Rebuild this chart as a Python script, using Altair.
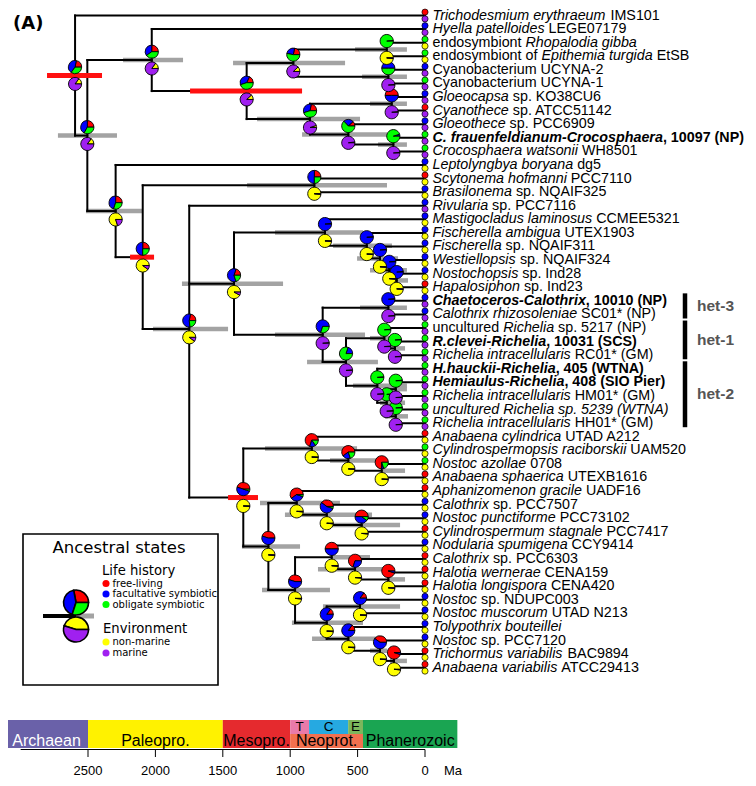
import math
import altair as alt
import pandas as pd

# ---------------------------------------------------------------- data
TIP_LABELS = [
    [("Trichodesmium erythraeum", "i"), (" IMS101", "r")],
    [("Hyella patelloides", "i"), (" LEGE07179", "r")],
    [("endosymbiont ", "r"), ("Rhopalodia gibba", "i")],
    [("endosymbiont of ", "r"), ("Epithemia turgida", "i"), (" EtSB", "r")],
    [("Cyanobacterium UCYNA-2", "r")],
    [("Cyanobacterium UCYNA-1", "r")],
    [("Gloeocapsa", "i"), (" sp. KO38CU6", "r")],
    [("Cyanothece", "i"), (" sp. ATCC51142", "r")],
    [("Gloeothece", "i"), (" sp. PCC6909", "r")],
    [("C. frauenfeldianum-Crocosphaera", "bi"), (", 10097 (NP)", "b")],
    [("Crocosphaera watsonii", "i"), (" WH8501", "r")],
    [("Leptolyngbya boryana", "i"), (" dg5", "r")],
    [("Scytonema hofmanni", "i"), (" PCC7110", "r")],
    [("Brasilonema", "i"), (" sp. NQAIF325", "r")],
    [("Rivularia", "i"), (" sp. PCC7116", "r")],
    [("Mastigocladus laminosus", "i"), (" CCMEE5321", "r")],
    [("Fischerella ambigua", "i"), (" UTEX1903", "r")],
    [("Fischerella", "i"), (" sp. NQAIF311", "r")],
    [("Westiellopsis", "i"), (" sp. NQAIF324", "r")],
    [("Nostochopsis", "i"), (" sp. Ind28", "r")],
    [("Hapalosiphon", "i"), (" sp. Ind23", "r")],
    [("Chaetoceros-Calothrix", "bi"), (", 10010 (NP)", "b")],
    [("Calothrix rhizosoleniae", "i"), (" SC01* (NP)", "r")],
    [("uncultured ", "r"), ("Richelia", "i"), (" sp. 5217 (NP)", "r")],
    [("R.clevei-Richelia", "bi"), (", 10031 (SCS)", "b")],
    [("Richelia intracellularis", "i"), (" RC01* (GM)", "r")],
    [("H.hauckii-Richelia", "bi"), (", 405 (WTNA)", "b")],
    [("Hemiaulus-Richelia", "bi"), (", 408 (SIO Pier)", "b")],
    [("Richelia intracellularis", "i"), (" HM01* (GM)", "r")],
    [("uncultured Richelia sp. 5239 (WTNA)", "i")],
    [("Richelia intracellularis", "i"), (" HH01* (GM)", "r")],
    [("Anabaena cylindrica", "i"), (" UTAD A212", "r")],
    [("Cylindrospermopsis raciborskii", "i"), (" UAM520", "r")],
    [("Nostoc azollae", "i"), (" 0708", "r")],
    [("Anabaena sphaerica", "i"), (" UTEXB1616", "r")],
    [("Aphanizomenon gracile", "i"), (" UADF16", "r")],
    [("Calothrix", "i"), (" sp. PCC7507", "r")],
    [("Nostoc punctiforme", "i"), (" PCC73102", "r")],
    [("Cylindrospermum stagnale", "i"), (" PCC7417", "r")],
    [("Nodularia spumigena", "i"), (" CCY9414", "r")],
    [("Calothrix", "i"), (" sp. PCC6303", "r")],
    [("Halotia wernerae", "i"), (" CENA159", "r")],
    [("Halotia longispora", "i"), (" CENA420", "r")],
    [("Nostoc", "i"), (" sp. NDUPC003", "r")],
    [("Nostoc muscorum", "i"), (" UTAD N213", "r")],
    [("Tolypothrix bouteillei", "i")],
    [("Nostoc", "i"), (" sp. PCC7120", "r")],
    [("Trichormus variabilis", "i"), (" BAC9894", "r")],
    [("Anabaena variabilis", "i"), (" ATCC29413", "r")],
]

TIP_LIFE = ["free", "fac", "obl", "obl", "fac", "obl", "fac", "free", "fac", "obl",
            "obl", "fac", "free", "fac", "fac", "fac", "fac", "fac", "fac", "fac",
            "free", "fac", "fac", "obl", "obl", "obl", "obl", "obl", "obl", "obl",
            "obl", "free", "obl", "obl", "free", "free", "fac", "fac", "free", "fac",
            "free", "free", "free", "fac", "fac", "fac", "fac", "free", "free"]
TIP_ENV = ["M", "M", "N", "N", "M", "M", "M", "M", "M", "M",
           "M", "N", "N", "N", "M", "N", "N", "N", "N", "N",
           "N", "M", "M", "M", "M", "M", "M", "M", "M", "M",
           "M", "N", "N", "N", "N", "N", "N", "N", "N", "N",
           "N", "N", "N", "N", "N", "N", "N", "N", "N"]

NODE_NAMES = ["A", "B", "C", "D", "E", "G", "H", "F", "I", "J", "K", "M", "N", "O", "P",
              "R", "R1", "R1b", "R1c", "R1d", "R1e", "R2", "R2a", "R2b", "R2c", "R2e",
              "R2d", "R2f", "R2g", "R2h",
              "S", "S1", "S2", "S3", "S5", "S6", "S8", "S9", "S7", "S10", "S12", "S13",
              "S11", "S14", "S15", "S16", "S17"]
NODE_CHILDREN = [[1, "B"], ["C", "M"], [2, "D"], ["E", "F"], ["G", "H"], [3, 4], [5, 6],
                 ["I", "J"], [7, 8], [9, "K"], [10, 11], [12, "N"], ["O", "P"], [13, 14],
                 [15, "R", "S"],
                 ["R1", "R2"], [16, "R1b"], [17, "R1c"], [18, "R1d"], [19, "R1e"], [20, 21],
                 ["R2a", "R2b"], [22, 23], ["R2c", "R2d"], [24, "R2e"], [25, 26],
                 [27, "R2f"], ["R2g", "R2h"], [28, 29], [30, 31],
                 ["S1", "S5"], [32, "S2"], [33, "S3"], [34, 35], ["S6", "S7"], [36, "S8"],
                 [37, "S9"], [38, 39], ["S10", "S11"], [40, "S12"], [41, "S13"], [42, 43],
                 ["S14", "S15"], [44, 45], [46, "S16"], [47, "S17"], [48, 49]]
NODE_AGE = [2596, 2505, 2027, 1323, 977, 284, 272, 853, 247, 569, 235, 2295, 2094, 821, 1749,
            1417, 742, 432, 334, 265, 210, 759, 272, 586, 302, 223, 354, 284, 217, 217,
            1348, 840, 569, 321, 1162, 952, 729, 470, 964, 692, 519, 272, 729, 482, 569, 334, 230]
NODE_HPD_OLD = [2804, 2723, 2240, 1743, 1424, 519, 467, 1246, 408, 912, 349, 2515, 2188, 1320, 2018,
                1803, 1113, 682, 504, 408, 260, 1113, 482, 875, 408, 297, 534, 334, 260, 297,
                1461, 1187, 705, 312, 1358, 1224, 1039, 779, 1209, 682, 794, 282, 987, 757, 838, 408, 260]
NODE_HPD_YOUNG = [2396, 2285, 1795, 912, 593, 134, 134, 482, 134, 282, 134, 2099, 2010, 282, 1461,
                  1053, 460, 245, 200, 134, 126, 445, 134, 349, 185, 148, 134, 148, 134, 126,
                  1239, 504, 356, 148, 927, 631, 393, 185, 705, 408, 312, 148, 460, 185, 356, 282, 134]
NODE_CALIBRATED = ["A", "D", "N", "S"]
# life history fractions: free-living, facultative, obligate
NODE_LIFE = [(.22, .43, .35), (.25, .42, .33), (.25, .35, .40), (.18, .37, .45), (.22, .25, .53),
             (0, .015, .985), (0, .5, .5), (.22, .33, .45), (.5, .5, 0), (.12, .25, .63),
             (0, .05, .95), (.25, .45, .30), (.25, .5, .25), (.25, .5, .25), (.22, .55, .23),
             (.2, .6, .2), (.015, .985, 0), (.015, .985, 0), (.015, .985, 0), (.015, .985, 0),
             (.015, .985, 0), (0, .7, .3), (.015, .985, 0), (0, .2, .8), (0, .015, .985),
             (0, .015, .985), (0, .015, .985), (0, .015, .985), (0, .015, .985), (0, .015, .985),
             (.45, .5, .05), (.7, .15, .15), (.6, .2, .2), (.75, .05, .2), (.45, .55, 0),
             (.6, .35, .05), (.4, .55, .05), (.5, .4, .1), (.45, .55, 0), (.5, .5, 0),
             (.7, .3, 0), (.95, .05, 0), (.15, .85, 0), (.15, .85, 0), (.15, .85, 0),
             (.4, .6, 0), (.95, .05, 0)]
# environment fractions: non-marine, marine
NODE_ENV = [(.15, .85), (.15, .85), (.15, .85), (.12, .88), (.12, .88), (.985, .015), (.015, .985),
            (.05, .95), (.015, .985), (.02, .98), (.015, .985), (.8, .2), (.9, .1), (.985, .015),
            (.9, .1),
            (.92, .08), (.985, .015), (.985, .015), (.985, .015), (.985, .015), (.985, .015),
            (.015, .985), (.015, .985), (.015, .985), (.015, .985), (.015, .985), (.015, .985),
            (.015, .985), (.015, .985), (.015, .985)] + [(.985, .015)] * 17

HET_NAMES = ["het-3", "het-1", "het-2"]
HET_FIRST = [22, 24, 27]
HET_LAST = [23, 26, 31]

ERA_NAMES = ["Archaean", "Paleopro.", "Mesopro.", "Neoprot.", "T", "C", "E", "Phanerozoic"]
ERA_START = [3115, 2500, 1500, 1000, 1000, 860, 570, 460]
ERA_END = [2500, 1500, 1000, 460, 860, 570, 460, -240]
ERA_BAND = ["full", "full", "full", "bottom", "top", "top", "top", "full"]
ERA_COLOR = ["#6a61a9", "#fff200", "#e52a2e", "#f2704f", "#e97aa9", "#26a9e1", "#7cb65c", "#1aa552"]
ERA_TEXT = ["white", "black", "black", "black", "black", "black", "black", "black"]
AXIS_TICKS = [2500, 2000, 1500, 1000, 500, 0]

LEGEND_LIFE = ["free-living", "facultative symbiotic", "obligate symbiotic"]
LEGEND_ENV = ["non-marine", "marine"]
LEGEND_PIE_LIFE = (.28, .42, .30)
LEGEND_PIE_ENV = (.45, .55)

# ---------------------------------------------------------------- styling / layout
W, H = 740, 770
PX_PER_MA = 67.4 / 500.0
ORIGIN = 417.0            # chart x of 0 Ma
ROW_PX = 13.5875          # pixel distance between tips
ROW0 = 1 - 7.5 / ROW_PX   # row value at the top edge
FONT = 14.3
LIFE_COL = {"free": "#ff0000", "fac": "#0000ff", "obl": "#00ff00"}
ENV_COL = {"N": "#ffff00", "M": "#a020f0"}
LIFE_ORDER = ["free", "fac", "obl"]
ENV_ORDER = ["N", "M"]


def pma(px):
    return (ORIGIN - px) / PX_PER_MA


def prow(py):
    return ROW0 + py / ROW_PX


XS = alt.Scale(domain=[pma(0), pma(W)], nice=False, zero=False)
YS = alt.Scale(domain=[prow(H), prow(0)], nice=False, zero=False)


def X(f):
    return alt.X(f, type="quantitative", scale=XS, axis=None)


def Y(f):
    return alt.Y(f, type="quantitative", scale=YS, axis=None)


# ---------------------------------------------------------------- tree layout
child_map = dict(zip(NODE_NAMES, NODE_CHILDREN))
age_map = dict(zip(NODE_NAMES, NODE_AGE))
ymap = {}


def ypos(c):
    if isinstance(c, int):
        return float(c)
    if c not in ymap:
        ys = [ypos(ch) for ch in child_map[c]]
        ymap[c] = sum(ys) / len(ys)
    return ymap[c]


def xage(c):
    return 0.0 if isinstance(c, int) else float(age_map[c])


seg = []
for n in NODE_NAMES:
    ys = [ypos(ch) for ch in child_map[n]]
    seg.append(dict(x0=xage(n), x1=xage(n), y0=min(ys), y1=max(ys)))
    for ch in child_map[n]:
        seg.append(dict(x0=xage(n), x1=xage(ch), y0=ypos(ch), y1=ypos(ch)))
seg_df = pd.DataFrame(seg)

bars = []
for i, n in enumerate(NODE_NAMES):
    bars.append(dict(x0=NODE_HPD_OLD[i], x1=NODE_HPD_YOUNG[i], y=ypos(n),
                     cal=n in NODE_CALIBRATED))
bars_df = pd.DataFrame(bars)
gray_df = bars_df[~bars_df.cal]
red_df = bars_df[bars_df.cal]


def slices(fracs, cols, x, y, key):
    out = []
    c = 0.0
    tot = sum(fracs)
    for f, col in zip(fracs, cols):
        if f <= 0:
            continue
        c0, c1 = c, c + f / tot
        c = c1
        out.append(dict(key=key, x=x, y=y, col=col,
                        a0=2.5 * math.pi - 2 * math.pi * c1,
                        a1=2.5 * math.pi - 2 * math.pi * c0))
    return out


life_rows, env_rows = [], []
for i, n in enumerate(NODE_NAMES):
    life_rows += slices(NODE_LIFE[i], [LIFE_COL[k] for k in LIFE_ORDER], xage(n), ypos(n), n)
    env_rows += slices(NODE_ENV[i], [ENV_COL[k] for k in ENV_ORDER], xage(n), ypos(n), n)
life_df = pd.DataFrame(life_rows)
env_df = pd.DataFrame(env_rows)

tips_df = pd.DataFrame(dict(x=[0.0] * len(TIP_LIFE), y=[float(k) for k in range(1, len(TIP_LIFE) + 1)],
                            life=[LIFE_COL[v] for v in TIP_LIFE], env=[ENV_COL[v] for v in TIP_ENV]))

# ---------------------------------------------------------------- label segments
REG = {" ": 278, ".": 278, ",": 278, "-": 333, "(": 333, ")": 333, "*": 389}
for ch, w in zip("ABCDEFGHIJKLMNOPQRSTUVWXYZ",
                 [667, 667, 722, 722, 667, 611, 778, 722, 278, 500, 667, 556, 833, 722, 778, 667,
                  778, 722, 667, 611, 722, 667, 944, 667, 667, 611]):
    REG[ch] = w
for ch, w in zip("abcdefghijklmnopqrstuvwxyz",
                 [556, 556, 500, 556, 556, 278, 556, 556, 222, 222, 500, 222, 833, 556, 556, 556,
                  556, 333, 500, 278, 556, 500, 722, 500, 500, 500]):
    REG[ch] = w
BOLD = {" ": 278, ".": 278, ",": 278, "-": 333, "(": 333, ")": 333, "*": 389}
for ch, w in zip("ABCDEFGHIJKLMNOPQRSTUVWXYZ",
                 [722, 722, 722, 722, 667, 611, 778, 722, 278, 556, 722, 611, 833, 722, 778, 667,
                  778, 722, 667, 611, 722, 667, 944, 667, 667, 611]):
    BOLD[ch] = w
for ch, w in zip("abcdefghijklmnopqrstuvwxyz",
                 [556, 611, 556, 611, 556, 333, 611, 611, 278, 278, 556, 278, 889, 611, 611, 611,
                  611, 389, 556, 333, 611, 556, 778, 556, 556, 500]):
    BOLD[ch] = w


def tw(s, bold):
    t = BOLD if bold else REG
    return sum(t.get(c, 556) for c in s) / 1000.0 * FONT


LABEL_GAP = 7.5
lab = []
for k, parts in enumerate(TIP_LABELS, start=1):
    off = 0.0
    for text, style in parts:
        bold = style.startswith("b")
        lead = len(text) - len(text.lstrip(" "))
        start = off + tw(" " * lead, bold)
        lab.append(dict(x=-(LABEL_GAP + start) / PX_PER_MA, y=float(k), t=text.strip(), s=style))
        off += tw(text, bold)
lab_df = pd.DataFrame(lab)

# ---------------------------------------------------------------- layers
layers = []

layers.append(alt.Chart(gray_df).mark_rule(color="#a3a3a3", strokeWidth=4.5).encode(
    x=X("x0"), x2=alt.X2("x1"), y=Y("y")))
layers.append(alt.Chart(seg_df).mark_rule(color="black", strokeWidth=2, strokeCap="square").encode(
    x=X("x0"), x2=alt.X2("x1"), y=Y("y0"), y2=alt.Y2("y1")))
layers.append(alt.Chart(red_df).mark_rule(color="#ff1010", strokeWidth=5).encode(
    x=X("x0"), x2=alt.X2("x1"), y=Y("y")))

for df, off in ((life_df, -8.4), (env_df, 8.4)):
    layers.append(alt.Chart(df).mark_arc(radius=6.6, stroke="black", strokeWidth=0.9, yOffset=off).encode(
        x=X("x"), y=Y("y"),
        theta=alt.Theta("a0:Q", scale=None, stack=False),
        theta2=alt.Theta2("a1"),
        color=alt.Color("col:N", scale=None)))

for field, off in (("life", -3.4), ("env", 3.4)):
    layers.append(alt.Chart(tips_df).mark_circle(size=38, stroke="black", strokeWidth=0.7,
                                                  opacity=1, yOffset=off).encode(
        x=X("x"), y=Y("y"), color=alt.Color(field + ":N", scale=None)))

STYLE = {"r": ("normal", "normal"), "i": ("italic", "normal"),
         "b": ("normal", "bold"), "bi": ("italic", "bold")}
for s, (fs, fw) in STYLE.items():
    layers.append(alt.Chart(lab_df[lab_df.s == s]).mark_text(
        align="left", baseline="middle", font="Liberation Sans", fontSize=FONT,
        fontStyle=fs, fontWeight=fw, color="black").encode(
        x=X("x"), y=Y("y"), text="t:N"))

# het groups
het_df = pd.DataFrame(dict(name=HET_NAMES, y0=[f - 0.55 for f in HET_FIRST],
                           y1=[l + 0.3 for l in HET_LAST],
                           ym=[(f - 0.55 + l + 0.3) / 2 for f, l in zip(HET_FIRST, HET_LAST)],
                           xb=[pma(677)] * 3, xt=[pma(689)] * 3))
layers.append(alt.Chart(het_df).mark_rule(color="black", strokeWidth=4.5).encode(
    x=X("xb"), y=Y("y0"), y2=alt.Y2("y1")))
layers.append(alt.Chart(het_df).mark_text(align="left", baseline="middle", font="Liberation Sans",
                                          fontSize=15.5, fontWeight="bold", color="#555555").encode(
    x=X("xt"), y=Y("ym"), text="name:N"))

# panel label
layers.append(alt.Chart(pd.DataFrame(dict(x=[pma(5)], y=[prow(16)], t=["(A)"]))).mark_text(
    align="left", baseline="middle", font="DejaVu Sans", fontSize=18, fontWeight="bold",
    color="black").encode(x=X("x"), y=Y("y"), text="t:N"))

# ---------------------------------------------------------------- legend
box = pd.DataFrame(dict(x0=[pma(15)], x1=[pma(210)], y0=[prow(526)], y1=[prow(677)]))
layers.append(alt.Chart(box).mark_rect(fill="white", stroke="black", strokeWidth=1.6).encode(
    x=X("x0"), x2=alt.X2("x1"), y=Y("y0"), y2=alt.Y2("y1")))
heads = pd.DataFrame(dict(x=[pma(111), pma(94), pma(95)], y=[prow(540), prow(563), prow(620.5)],
                          t=["Ancestral states", "Life history", "Environment"],
                          size=[16.5, 13.2, 13.2], al=["center", "left", "left"]))
for i in range(3):
    layers.append(alt.Chart(heads.iloc[[i]]).mark_text(
        align=heads.al[i], baseline="middle", font="DejaVu Sans", fontSize=float(heads["size"][i]),
        color="black").encode(x=X("x"), y=Y("y"), text="t:N"))
items = pd.DataFrame(dict(
    t=LEGEND_LIFE + LEGEND_ENV,
    col=[LIFE_COL[k] for k in LIFE_ORDER] + [ENV_COL[k] for k in ENV_ORDER],
    y=[prow(p) for p in (575.5, 586, 596.5, 634, 645)],
    xd=[pma(98)] * 5, xt=[pma(104.5)] * 5))
layers.append(alt.Chart(items).mark_circle(size=50, opacity=1).encode(
    x=X("xd"), y=Y("y"), color=alt.Color("col:N", scale=None)))
layers.append(alt.Chart(items).mark_text(align="left", baseline="middle", font="DejaVu Sans",
                                         fontSize=10, color="black").encode(
    x=X("xt"), y=Y("y"), text="t:N"))
leg_lines = pd.DataFrame(dict(x0=[pma(35)], x1=[pma(68)], x2=[pma(86)], y=[prow(608)]))
layers.append(alt.Chart(leg_lines).mark_rule(color="#a3a3a3", strokeWidth=5).encode(
    x=X("x1"), x2=alt.X2("x2"), y=Y("y")))
layers.append(alt.Chart(leg_lines).mark_rule(color="black", strokeWidth=4).encode(
    x=X("x0"), x2=alt.X2("x1"), y=Y("y")))
lp_life = pd.DataFrame(slices(LEGEND_PIE_LIFE, [LIFE_COL[k] for k in LIFE_ORDER], pma(68), prow(608), "L"))
lp_env = pd.DataFrame(slices(LEGEND_PIE_ENV, [ENV_COL[k] for k in ENV_ORDER], pma(68), prow(608), "E"))
for df, off in ((lp_life, -13.5), (lp_env, 13.5)):
    layers.append(alt.Chart(df).mark_arc(radius=12.5, stroke="black", strokeWidth=1.6, yOffset=off).encode(
        x=X("x"), y=Y("y"),
        theta=alt.Theta("a0:Q", scale=None, stack=False),
        theta2=alt.Theta2("a1"),
        color=alt.Color("col:N", scale=None)))

# ---------------------------------------------------------------- geological time scale
TOP, MID, BOT = 712, 726, 740
era_df = pd.DataFrame(dict(name=ERA_NAMES, x0=ERA_START, x1=ERA_END, col=ERA_COLOR, tcol=ERA_TEXT,
                           band=ERA_BAND))
era_df["y0"] = [prow(TOP if b != "bottom" else MID) for b in ERA_BAND]
era_df["y1"] = [prow(BOT if b != "top" else MID) for b in ERA_BAND]
era_df["xm"] = [(a + b) / 2 for a, b in zip(ERA_START, ERA_END)]
era_df["ym"] = [prow(719) if b == "top" else prow(733) for b in ERA_BAND]
layers.append(alt.Chart(era_df).mark_rect().encode(
    x=X("x0"), x2=alt.X2("x1"), y=Y("y0"), y2=alt.Y2("y1"), color=alt.Color("col:N", scale=None)))
for big in (True, False):
    sub = era_df[(era_df.band != "top") == big]
    layers.append(alt.Chart(sub).mark_text(align="center", baseline="middle", font="Liberation Sans",
                                           fontSize=16 if big else 13.5).encode(
        x=X("xm"), y=Y("ym"), text="name:N", color=alt.Color("tcol:N", scale=None)))

AX_Y, TICK_Y, LAB_Y = 741.5, 749, 762.5
axis_line = pd.DataFrame(dict(x0=[3000], x1=[0], y=[prow(AX_Y)]))
layers.append(alt.Chart(axis_line).mark_rule(color="black", strokeWidth=1).encode(
    x=X("x0"), x2=alt.X2("x1"), y=Y("y")))
ticks_df = pd.DataFrame(dict(x=AXIS_TICKS, y0=[prow(AX_Y)] * len(AXIS_TICKS),
                             y1=[prow(TICK_Y)] * len(AXIS_TICKS), ylab=[prow(LAB_Y)] * len(AXIS_TICKS),
                             t=[str(v) for v in AXIS_TICKS]))
layers.append(alt.Chart(ticks_df).mark_rule(color="black", strokeWidth=1).encode(
    x=X("x"), y=Y("y0"), y2=alt.Y2("y1")))
layers.append(alt.Chart(ticks_df).mark_text(align="center", baseline="middle", font="Liberation Sans",
                                            fontSize=13, color="black").encode(
    x=X("x"), y=Y("ylab"), text="t:N"))
layers.append(alt.Chart(pd.DataFrame(dict(x=[pma(436)], y=[prow(LAB_Y)], t=["Ma"]))).mark_text(
    align="left", baseline="middle", font="Liberation Sans", fontSize=13, color="black").encode(
    x=X("x"), y=Y("y"), text="t:N"))

chart = alt.layer(*layers).properties(
    width=W, height=H, padding=0, autosize=alt.AutoSizeParams(type="none"),
    background="white").configure_view(stroke=None)

chart.save("out.html", embed_options={"renderer": "svg", "actions": False})
